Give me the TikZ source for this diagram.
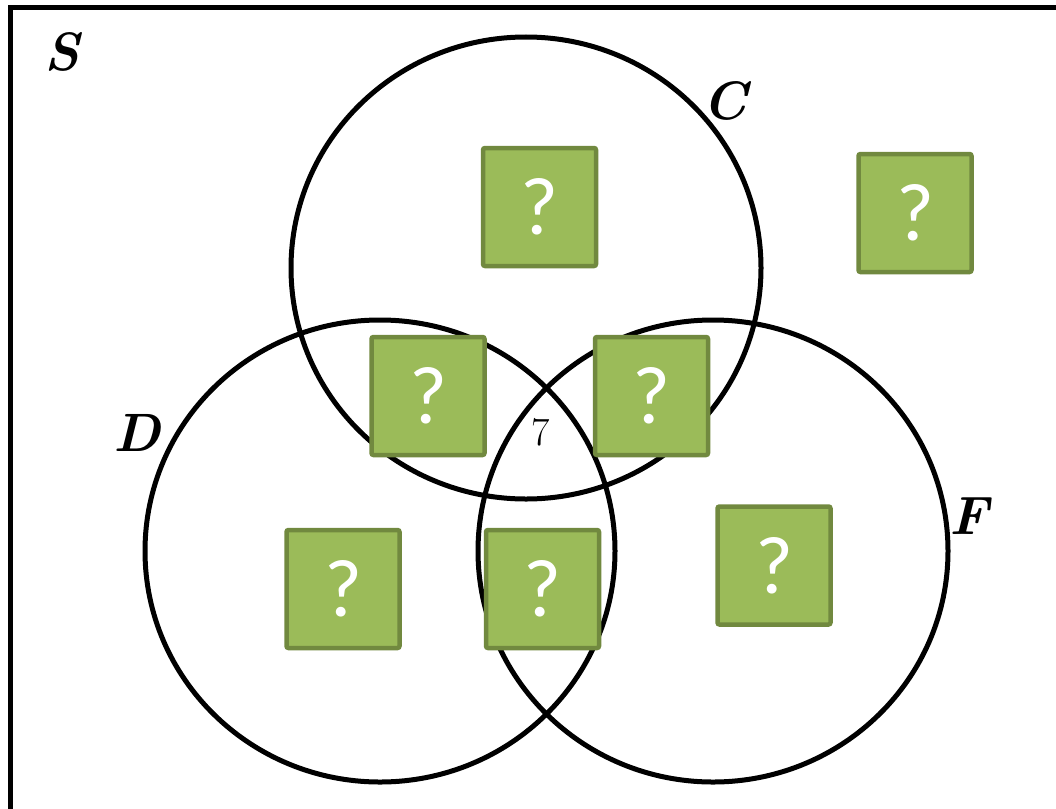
\documentclass[tikz,border=0pt]{standalone}
\usepackage{fontspec}
\newfontfamily\qfont{Carlito}
\begin{document}
\begin{tikzpicture}[x=1pt,y=-1pt,
  setcircle/.style={draw=black,line width=5pt},
  qbox/.style={draw={rgb,255:red,113;green,137;blue,63},fill={rgb,255:red,155;green,187;blue,89},
    line width=4.5pt,rounded corners=2pt,minimum width=113pt,minimum height=118pt,inner sep=0pt,
    text=white,font=\qfont\fontsize{82}{82}\selectfont},
  setlabel/.style={font=\bfseries\itshape\fontsize{54}{54}\selectfont,inner sep=0pt}]
\useasboundingbox (0,0) rectangle (1056,808);
\clip (0,0) rectangle (1056,808);
\draw[line width=5pt] (10,8) rectangle (1120,870);
\node[setlabel] (S) at (62,52) {S};
\node[setlabel] (C) at (725,101) {C};
\node[setlabel] (D) at (137,433) {D};
\node[setlabel] (F) at (969,516) {F};
\draw[setcircle] (526,268) ellipse [x radius=235, y radius=231];
\draw[setcircle] (380,551) ellipse [x radius=235, y radius=231];
\draw[setcircle] (713,551) ellipse [x radius=235, y radius=231];
\node[qbox] (q1) at (539.5,207) {\raisebox{-4pt}{?}};
\node[qbox] (q2) at (915,213) {\raisebox{-4pt}{?}};
\node[qbox] (q3) at (428,396) {\raisebox{-4pt}{?}};
\node[qbox] (q4) at (651.5,396) {\raisebox{-4pt}{?}};
\node[qbox] (q5) at (343,589) {\raisebox{-4pt}{?}};
\node[qbox] (q6) at (542.5,589) {\raisebox{-4pt}{?}};
\node[qbox] (q7) at (774,565.5) {\raisebox{-4pt}{?}};
\node[font=\fontsize{40}{40}\selectfont,inner sep=0pt] (n7) at (541,432) {7};
\end{tikzpicture}
\end{document}
